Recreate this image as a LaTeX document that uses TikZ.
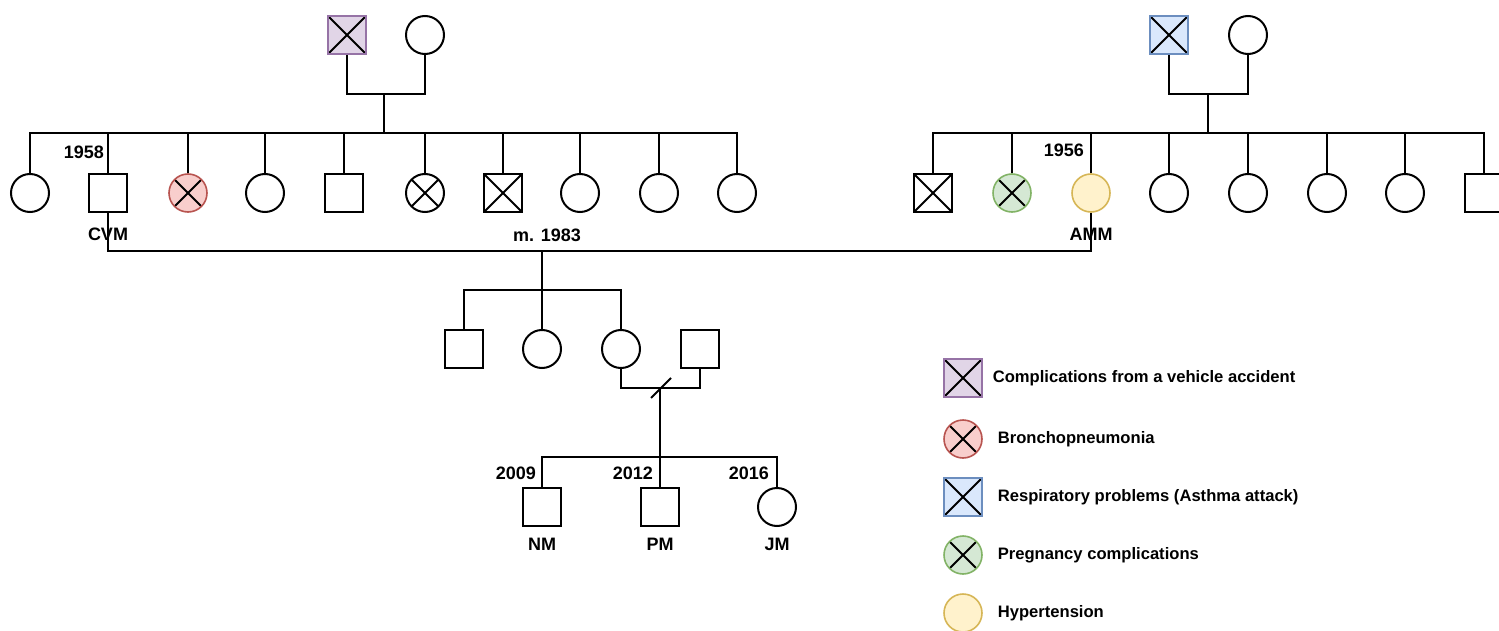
\documentclass[tikz,border=0pt]{standalone}
\usepackage{fontspec}
\setmainfont{Liberation Sans}
\usetikzlibrary{positioning}

\definecolor{accfill}{HTML}{E1D5E7}
\definecolor{accdraw}{HTML}{9673A6}
\definecolor{brofill}{HTML}{F8CECC}
\definecolor{brodraw}{HTML}{B85450}
\definecolor{resfill}{HTML}{DAE8FC}
\definecolor{resdraw}{HTML}{6C8EBF}
\definecolor{pregfill}{HTML}{D5E8D4}
\definecolor{pregdraw}{HTML}{82B366}
\definecolor{hypfill}{HTML}{FFF2CC}
\definecolor{hypdraw}{HTML}{D6B656}

\tikzset{
  male/.style={draw, rectangle, minimum size=19pt, inner sep=0pt, line width=1pt},
  female/.style={draw, circle, minimum size=19pt, inner sep=0pt, line width=1pt},
  dead/.style={path picture={
    \draw[line width=0.9pt, black]
      (path picture bounding box.north west) -- (path picture bounding box.south east)
      (path picture bounding box.north east) -- (path picture bounding box.south west);}},
  acc/.style={fill=accfill, draw=accdraw, line width=0.8pt, dead},
  bro/.style={fill=brofill, draw=brodraw, line width=0.8pt, dead},
  res/.style={fill=resfill, draw=resdraw, line width=0.8pt, dead},
  preg/.style={fill=pregfill, draw=pregdraw, line width=0.8pt, dead},
  hyp/.style={fill=hypfill, draw=hypdraw, line width=0.8pt},
  lbl/.style={font=\fontsize{9}{11}\selectfont\bfseries, inner sep=0pt},
  keytext/.style={font=\fontsize{8.3}{10}\selectfont\bfseries, inner sep=0pt, anchor=west}
}

\begin{document}
\begin{tikzpicture}[x=0.5pt, y=-0.5pt, line width=1pt]
\useasboundingbox (0,0) rectangle (1499,631);

\node[male, acc] (pgf) at (347,35) {};
\node[female] (pgm) at (425,35) {};
\coordinate (pmid) at (384,94);
\coordinate (pbar) at (384,133);

\node[female] (s1) at (30,193) {};
\node[male] (s2) at (108,193) {};
\node[female, bro] (s3) at (188,193) {};
\node[female] (s4) at (265,193) {};
\node[male] (s5) at (344,193) {};
\node[female, dead] (s6) at (425,193) {};
\node[male, dead] (s7) at (503,193) {};
\node[female] (s8) at (580,193) {};
\node[female] (s9) at (659,193) {};
\node[female] (s10) at (737,193) {};

\node[male, res] (rgf) at (1169,35) {};
\node[female] (rgm) at (1248,35) {};
\coordinate (rmid) at (1208,94);
\coordinate (rbar) at (1208,133);

\node[male, dead] (r1) at (933,193) {};
\node[female, preg] (r2) at (1012,193) {};
\node[female, hyp] (r3) at (1091,193) {};
\node[female] (r4) at (1169,193) {};
\node[female] (r5) at (1248,193) {};
\node[female] (r6) at (1327,193) {};
\node[female] (r7) at (1405,193) {};
\node[male] (r8) at (1484,193) {};

\node[lbl, anchor=east] (born1) at (105,152) {1958};
\node[lbl, below=7pt of s2] (cvm) {CVM};
\node[lbl, anchor=east] (born2) at (1085,150) {1956};
\node[lbl, below=7pt of r3] (amm) {AMM};
\node[lbl] (wed) at (547,235) {m. 1983};

\coordinate (mar) at (542,251);
\coordinate (kbar) at (542,290);
\node[male] (k1) at (464,349) {};
\node[female] (k2) at (542,349) {};
\node[female] (k3) at (621,349) {};
\node[male] (sp) at (700,349) {};

\coordinate (dv) at (660,388);
\coordinate (gbar) at (660,457);
\node[male] (g1) at (542,507) {};
\node[male] (g2) at (660,507) {};
\node[female] (g3) at (777,507) {};
\node[lbl, anchor=east] (born3) at (537,473) {2009};
\node[lbl, anchor=east] (born4) at (654,473) {2012};
\node[lbl, anchor=east] (born5) at (770,473) {2016};
\node[lbl, below=5pt of g1] (nm) {NM};
\node[lbl, below=5pt of g2] (pm) {PM};
\node[lbl, below=5pt of g3] (jm) {JM};

\draw (pgf.south) |- (pmid) -| (pgm.south);
\draw (pmid) -- (pbar);
\foreach \i in {1,...,10} \draw (s\i.north) |- (pbar);
\draw (rgf.south) |- (rmid) -| (rgm.south);
\draw (rmid) -- (rbar);
\foreach \i in {1,...,8} \draw (r\i.north) |- (rbar);

\draw (s2.south) |- (mar) -| (r3.south);
\draw (mar) -- (kbar);
\foreach \k in {k1,k2,k3} \draw (\k.north) |- (kbar);
\draw (k3.south) |- (dv) -| (sp.south);
\draw ([shift={(-9,10)}]dv) -- ([shift={(11,-10)}]dv);
\draw (dv) -- (gbar);
\foreach \g in {g1,g2,g3} \draw (\g.north) |- (gbar);

\node[male, acc] (key1) at (963,378) {};
\node[female, bro] (key2) at (963,439) {};
\node[male, res] (key3) at (963,497) {};
\node[female, preg] (key4) at (963,555) {};
\node[female, hyp] (key5) at (963,613) {};
\node[keytext, right=4.5pt of key1] {Complications from a vehicle accident};
\node[keytext, right=7pt of key2] {Bronchopneumonia};
\node[keytext, right=7pt of key3] {Respiratory problems (Asthma attack)};
\node[keytext, right=7pt of key4] {Pregnancy complications};
\node[keytext, right=7pt of key5] {Hypertension};
\end{tikzpicture}
\end{document}
